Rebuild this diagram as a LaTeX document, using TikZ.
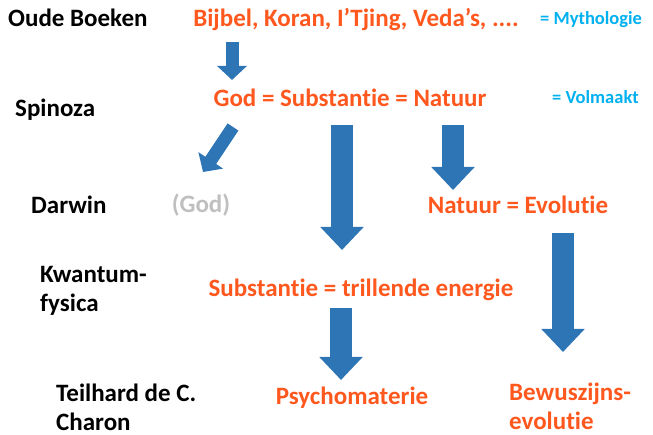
\documentclass[tikz,border=0pt]{standalone}
\usepackage{fontspec}
\setmainfont{Carlito}[Ligatures=NoCommon]
\usetikzlibrary{arrows.meta}

\definecolor{flowblue}{RGB}{46,117,182}
\definecolor{claimred}{RGB}{255,88,30}
\definecolor{remarkblue}{RGB}{0,176,240}
\definecolor{fadedgrey}{RGB}{191,191,191}

\begin{document}
\begin{tikzpicture}
[
	              x = 1pt, y = -1pt,
	     era/.style = { anchor=west, inner sep=0pt, align=left, text=black,
	                    font=\bfseries\fontsize{25}{29}\selectfont },
	   claim/.style = { inner sep=0pt, align=left, text=claimred,
	                    font=\bfseries\fontsize{25}{29}\selectfont },
	  remark/.style = { anchor=west, inner sep=0pt, text=remarkblue,
	                    font=\bfseries\fontsize{18.5}{22}\selectfont },
	    flow/.style = { draw=flowblue, line width=22pt,
	                    -{Triangle[width=42pt,length=23pt]} },
	thinflow/.style = { draw=flowblue, line width=13pt,
	                    -{Triangle[width=29pt,length=14pt]} }
]
	\useasboundingbox (0,0) rectangle (653,435);

	% left column
	\node (oude)     at (8,18)    [era]    {Oude Boeken};
	\node (spinoza)  at (15,110)  [era]    {Spinoza};
	\node (darwin)   at (31,205)  [era]    {Darwin};
	\node (kwantum)  at (40,291)  [era]    {Kwantum-\\fysica};
	\node (teilhard) at (56,407)  [era]    {Teilhard de C.\\Charon};

	% statements
	\node (boeken)   at (356,20)  [claim]  {Bijbel, Koran, I’Tjing, Veda’s, ....};
	\node (god)      at (350,98)  [claim]  {God = Substantie = Natuur};
	\node (godgrijs) at (201,205) [claim, text=fadedgrey] {(God)};
	\node (evolutie) at (518,205) [claim]  {Natuur = Evolutie};
	\node (energie)  at (361,290) [claim]  {Substantie = trillende energie};
	\node (psycho)   at (352,398) [claim]  {Psychomaterie};
	\node (bewust)   at (509,406) [claim, anchor=west] {Bewuszijns-\\evolutie};

	\node (mythe)    at (540,20)  [remark] {= Mythologie};
	\node (volmaakt) at (552,97)  [remark] {= Volmaakt};

	% arrows
	\coordinate (boeken-s) at (232,42);
	\coordinate (boeken-e) at (232,80);
	\coordinate (god-s)    at (233,127);
	\coordinate (god-e)    at (203,172);
	\coordinate (subst-s)  at (342,125);
	\coordinate (subst-e)  at (342,250);
	\coordinate (natuur-s) at (453,125);
	\coordinate (natuur-e) at (453,190);
	\coordinate (evol-s)   at (563,233);
	\coordinate (evol-e)   at (563,352);
	\coordinate (psych-s)  at (341,308);
	\coordinate (psych-e)  at (341,380);

	\draw [thinflow] (boeken-s) -- (boeken-e);
	\draw [thinflow] (god-s) -- (god-e);
	\draw [flow] (subst-s) -- (subst-e);
	\draw [flow] (natuur-s) -- (natuur-e);
	\draw [flow] (evol-s) -- (evol-e);
	\draw [flow] (psych-s) -- (psych-e);

\end{tikzpicture}
\end{document}
